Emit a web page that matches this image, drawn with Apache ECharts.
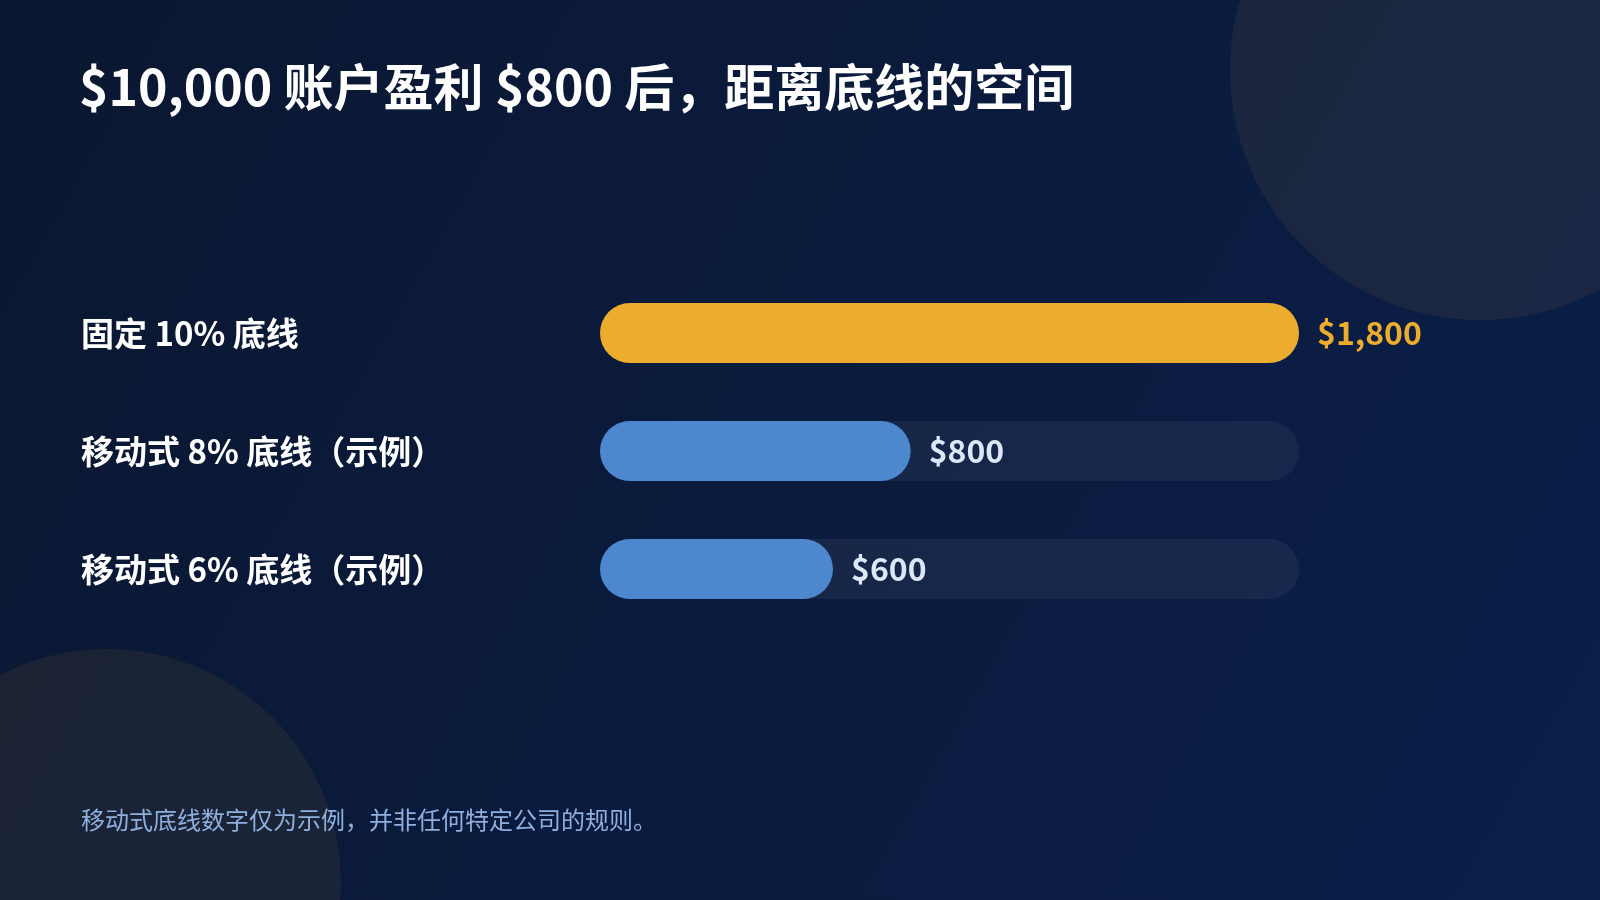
<!DOCTYPE html>
<html>
<head>
<meta charset="utf-8">
<script src="https://cdn.jsdelivr.net/npm/echarts@6/dist/echarts.min.js"></script>
<style>
  html, body { margin: 0; padding: 0; background: #0a1832; }
  #main { width: 1600px; height: 900px; }
</style>
</head>
<body>
<div id="main"></div>
<script>
// 数据
var titleText = '$10,000 账户盈利 $800 后，距离底线的空间';
var noteText = '移动式底线数字仅为示例，并非任何特定公司的规则。';
var categories = ['固定 10% 底线', '移动式 8% 底线（示例）', '移动式 6% 底线（示例）'];
var values = [1800, 800, 600];
var valueLabels = ['$1,800', '$800', '$600'];
var maxValue = 1800;

var font = '"Noto Sans CJK SC", "Noto Sans", sans-serif';
var barColors = ['#ECAD2E', '#4D87CE', '#4D87CE'];
var labelColors = ['#ECAD2E', '#DCE8F8', '#DCE8F8'];

var barData = [];
for (var i = 0; i < values.length; i++) {
    barData.push({
        value: values[i],
        itemStyle: { color: barColors[i] },
        label: { color: labelColors[i] }
    });
}

var option = {
    graphic: [
        {
            type: 'rect',
            z: -10,
            silent: true,
            shape: { x: 0, y: 0, width: 1600, height: 900 },
            style: {
                fill: new echarts.graphic.LinearGradient(0, 0, 1, 1, [
                    { offset: 0, color: '#0a1730' },
                    { offset: 1, color: '#0b1f4a' }
                ])
            }
        },
        {
            type: 'circle',
            z: -9,
            silent: true,
            shape: { cx: 1480, cy: 70, r: 250 },
            style: { fill: 'rgba(236,173,46,0.07)' }
        },
        {
            type: 'circle',
            z: -9,
            silent: true,
            shape: { cx: 107, cy: 883, r: 234 },
            style: { fill: 'rgba(236,173,46,0.07)' }
        },
        {
            type: 'text',
            left: 81,
            top: 808,
            style: {
                text: noteText,
                fill: '#8FB0DE',
                font: '24px ' + font
            }
        }
    ],
    title: {
        text: titleText,
        left: 74,
        top: 57,
        textStyle: {
            color: '#ffffff',
            fontSize: 50,
            fontWeight: 'bold',
            fontFamily: font
        }
    },
    grid: {
        left: 600,
        right: 301,
        top: 274,
        bottom: 272
    },
    xAxis: {
        type: 'value',
        min: 0,
        max: maxValue,
        show: false
    },
    yAxis: {
        type: 'category',
        inverse: true,
        data: categories,
        axisLine: { show: false },
        axisTick: { show: false },
        axisLabel: {
            align: 'left',
            margin: 519,
            color: '#ffffff',
            fontSize: 33,
            fontWeight: 'bold',
            fontFamily: font
        }
    },
    series: [{
        type: 'bar',
        data: barData,
        barWidth: 60,
        showBackground: true,
        backgroundStyle: {
            color: 'rgba(255,255,255,0.05)',
            borderRadius: 30
        },
        itemStyle: { borderRadius: 30 },
        label: {
            show: true,
            position: 'right',
            distance: 18,
            fontSize: 32,
            fontWeight: 'bold',
            fontFamily: font,
            formatter: function (p) { return valueLabels[p.dataIndex]; }
        },
        animation: false
    }]
};

var chart = echarts.init(document.getElementById('main'));
chart.setOption(option);
</script>
</body>
</html>
